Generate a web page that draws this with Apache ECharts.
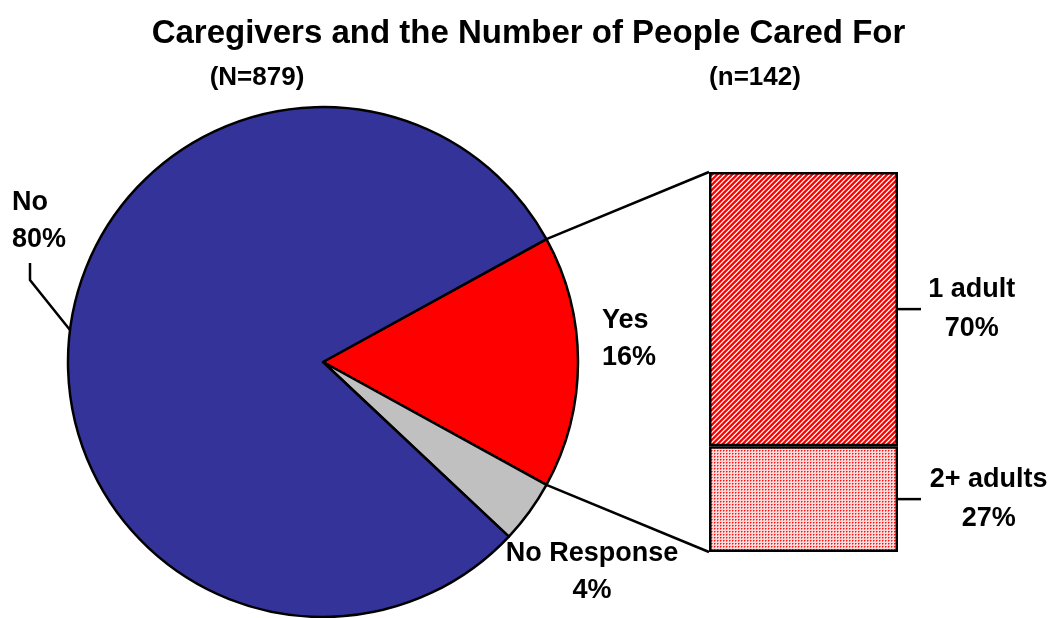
<!DOCTYPE html>
<html><head><meta charset="utf-8">
<script src="https://cdn.jsdelivr.net/npm/echarts@6/dist/echarts.min.js"></script>
<style>html,body{margin:0;padding:0;background:#fff}#c{width:1057px;height:618px}</style>
</head><body><div id="c"></div>
<script>
// ---- data ----
const titleText = 'Caregivers and the Number of People Cared For';
const pieCategories = ['Yes', 'No Response', 'No'];
const pieValues = [16, 4, 80];
const pieSampleLabel = '(N=879)';
const barCategories = ['2+ adults', '1 adult'];
const barValues = [27, 70];
const barSampleLabel = '(n=142)';

// ---- layout / style ----
const FONT = "'Liberation Sans', Arial, sans-serif";
const PIE_C = [323, 362], PIE_R = 255;
const BAR = {left: 709, top: 172, width: 189, height: 380};
const pieColors = {'Yes': '#ff0000', 'No Response': '#c0c0c0', 'No': '#333399'};

function stripePattern() {
  const n = 5;
  const c = document.createElement('canvas'); c.width = n; c.height = n;
  const g = c.getContext('2d');
  g.fillStyle = '#ffffff'; g.fillRect(0, 0, n, n);
  for (let y = 0; y < n; y++) for (let x = 0; x < n; x++) {
    const k = (x + y) % n;
    if (k <= 1) { g.fillStyle = '#ff0000'; g.fillRect(x, y, 1, 1); }
    else if (k === 2) { g.fillStyle = '#ff3030'; g.fillRect(x, y, 1, 1); }
    else if (k === 4) { g.fillStyle = '#ff9090'; g.fillRect(x, y, 1, 1); }
  }
  return c;
}
function dotPattern() {
  const c = document.createElement('canvas'); c.width = 3; c.height = 3;
  const g = c.getContext('2d');
  g.fillStyle = '#ffdada'; g.fillRect(0, 0, 3, 3);
  g.fillStyle = '#ff7070'; g.fillRect(1, 0, 1, 1); g.fillRect(0, 1, 1, 1);
  g.fillStyle = '#ff1010'; g.fillRect(0, 0, 1, 1);
  return c;
}
const barFills = {'1 adult': {image: stripePattern(), repeat: 'repeat'},
                  '2+ adults': {image: dotPattern(), repeat: 'repeat'}};
const barLabelPos = {'1 adult': ['139%', '50%'], '2+ adults': ['148%', '50%']};

const pieTotal = pieValues.reduce((a, b) => a + b, 0);
const barTotal = barValues.reduce((a, b) => a + b, 0);
const yesIdx = pieCategories.indexOf('Yes');
const startAngle = pieValues[yesIdx] / pieTotal * 360 / 2;

const pieLabelLayout = {
  'No': {x: 12, y: 221, align: 'left'},
  'Yes': {x: 602, y: 339, align: 'left'},
  'No Response': {x: 592, y: 572, align: 'center'}
};

const labelText = {fontFamily: FONT, fontWeight: 'bold', fontSize: 27, color: '#000',
  textBorderWidth: 0, textShadowBlur: 0};

const chart = echarts.init(document.getElementById('c'), null, {renderer: 'canvas'});

const option = {
  animation: false,
  backgroundColor: '#fff',
  title: {
    text: titleText, left: 'center', top: 12,
    textStyle: {fontFamily: FONT, fontWeight: 'bold', fontSize: 33, color: '#000'}
  },
  grid: {left: BAR.left, top: BAR.top, width: BAR.width, height: BAR.height},
  xAxis: {type: 'category', data: ['x'], show: false},
  yAxis: {type: 'value', min: 0, max: barTotal, show: false},
  series: [
    {
      type: 'pie', center: PIE_C, radius: PIE_R, startAngle: startAngle, clockwise: true,
      avoidLabelOverlap: false,
      data: pieCategories.map((n, i) => ({name: n, value: pieValues[i], itemStyle: {color: pieColors[n]}})),
      itemStyle: {borderColor: '#000', borderWidth: 2.5},
      label: Object.assign({show: true, position: 'inside', formatter: '{b}\n{c}%', lineHeight: 37}, labelText),
      labelLine: {show: false},
      labelLayout: function (p) {
        const L = pieLabelLayout[p.text.split('\n')[0]];
        return {x: L.x, y: L.y, align: L.align, verticalAlign: 'middle', hideOverlap: false};
      },
      emphasis: {disabled: true}, silent: true
    }
  ].concat(barCategories.map((n, i) => ({
    type: 'bar', name: n, stack: 'b', data: [barValues[i]], barWidth: '100%',
    itemStyle: {color: barFills[n], borderColor: '#000', borderWidth: 2.5},
    label: Object.assign({show: true, formatter: '{a}\n{c}%', position: barLabelPos[n],
      align: 'center', verticalAlign: 'middle', lineHeight: 39}, labelText),
    emphasis: {disabled: true}, silent: true
  })))
};
chart.setOption(option);

// connectors & leader lines derived from the layout/scales
function piePoint(deg) {
  const r = deg * Math.PI / 180;
  return [PIE_C[0] + PIE_R * Math.cos(r), PIE_C[1] - PIE_R * Math.sin(r)];
}
const yTop = chart.convertToPixel({yAxisIndex: 0}, barTotal);
const yBot = chart.convertToPixel({yAxisIndex: 0}, 0);
const pTop = piePoint(startAngle), pBot = piePoint(-startAngle);
const lineStyle = {stroke: '#000', lineWidth: 2.5, fill: null};
const graphics = [
  {type: 'line', shape: {x1: pTop[0], y1: pTop[1], x2: BAR.left, y2: yTop}, style: lineStyle, z: 10},
  {type: 'line', shape: {x1: pBot[0], y1: pBot[1], x2: BAR.left, y2: yBot}, style: lineStyle, z: 10}
];
let acc = 0;
barValues.forEach(v => {
  const y = chart.convertToPixel({yAxisIndex: 0}, acc + v / 2);
  acc += v;
  graphics.push({type: 'line', shape: {x1: BAR.left + BAR.width, y1: y, x2: BAR.left + BAR.width + 23, y2: y}, style: lineStyle, z: 10});
});
const noIdx = pieCategories.indexOf('No');
let ang = startAngle;
for (let i = 0; i < noIdx; i++) ang -= pieValues[i] / pieTotal * 360;
const noMid = ang - pieValues[noIdx] / pieTotal * 360 / 2;
const pNo = piePoint(noMid);
graphics.push({type: 'polyline', shape: {points: [pNo, [30, 280], [30, 263]]}, style: lineStyle, z: 10});
graphics.push({type: 'text', x: 257, y: 78, style: {text: pieSampleLabel, font: "bold 26px " + FONT, fill: '#000', textAlign: 'center', textVerticalAlign: 'middle'}});
graphics.push({type: 'text', x: 755, y: 78, style: {text: barSampleLabel, font: "bold 26px " + FONT, fill: '#000', textAlign: 'center', textVerticalAlign: 'middle'}});
chart.setOption({graphic: graphics});
</script></body></html>
